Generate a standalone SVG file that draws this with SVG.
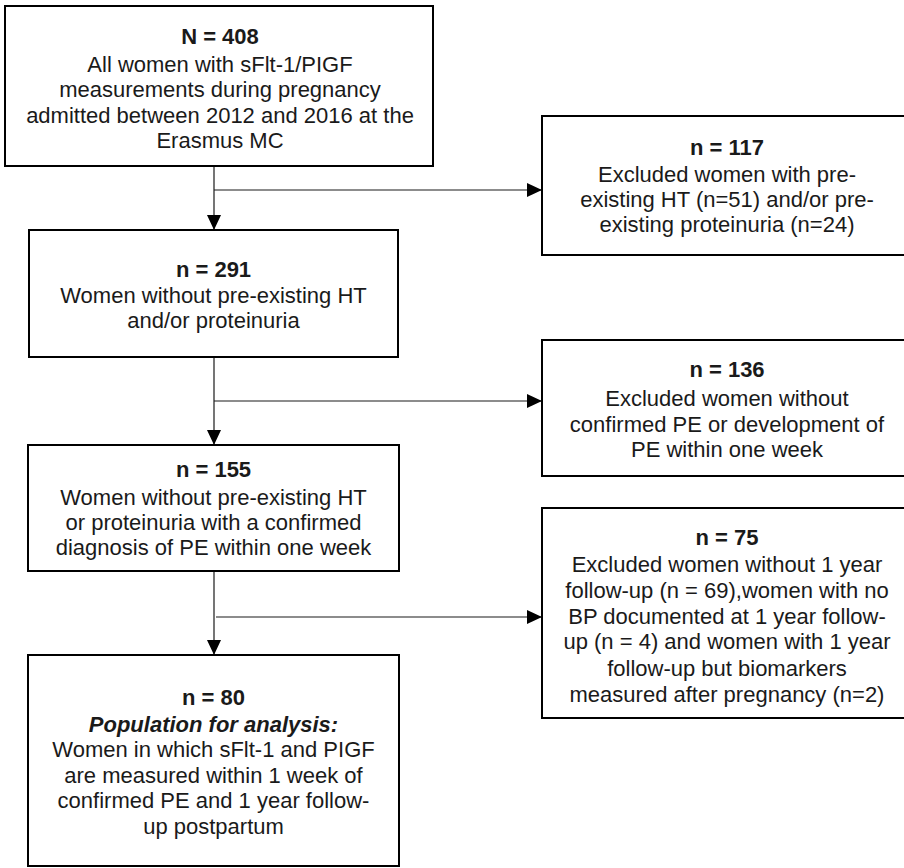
<svg xmlns="http://www.w3.org/2000/svg" width="904" height="868" viewBox="0 0 904 868">
<style>
.box{fill:#fff;stroke:#000;stroke-width:2}
.c{fill:none;stroke:#1a1a1a;stroke-width:1.2}
text{font-family:"Liberation Sans",Arial,sans-serif;font-size:22px;fill:#1a1a1a;text-anchor:middle}
.t{font-weight:bold}
.bi{font-weight:bold;font-style:italic}
</style>
<defs>
<marker id="ah" markerUnits="userSpaceOnUse" markerWidth="15" markerHeight="14" refX="15" refY="7" orient="auto">
<path d="M0,0 L15,7 L0,14 z" fill="#000"/>
</marker>
</defs>
<rect width="904" height="868" fill="#fff"/>
<g id="connectors">
<path class="c" d="M214,166 V230" marker-end="url(#ah)"/>
<path class="c" d="M214,190 H542" marker-end="url(#ah)"/>
<path class="c" d="M214,357 V445" marker-end="url(#ah)"/>
<path class="c" d="M214,401 H542" marker-end="url(#ah)"/>
<path class="c" d="M214,571 V655" marker-end="url(#ah)"/>
<path class="c" d="M216,617 H542" marker-end="url(#ah)"/>
</g>
<g id="n408">
<rect class="box" x="5" y="6" width="428" height="160"/>
<text class="t" x="220" y="44">N = 408</text>
<text x="220" y="71.5">All women with sFlt-1/PIGF</text>
<text x="220" y="97">measurements during pregnancy</text>
<text x="220" y="122.5">admitted between 2012 and 2016 at the</text>
<text x="220" y="148">Erasmus MC</text>
</g>
<g id="n117">
<rect class="box" x="542" y="116" width="370" height="139"/>
<text class="t" x="727" y="155">n = 117</text>
<text x="727" y="182">Excluded women with pre-</text>
<text x="727" y="207">existing HT (n=51) and/or pre-</text>
<text x="727" y="232">existing proteinuria (n=24)</text>
</g>
<g id="n291">
<rect class="box" x="29" y="230" width="369" height="127"/>
<text class="t" x="213.5" y="277">n = 291</text>
<text x="213.5" y="303">Women without pre-existing HT</text>
<text x="213.5" y="328">and/or proteinuria</text>
</g>
<g id="n136">
<rect class="box" x="542" y="340" width="370" height="136"/>
<text class="t" x="727" y="377">n = 136</text>
<text x="727" y="406">Excluded women without</text>
<text x="727" y="431.5">confirmed PE or development of</text>
<text x="727" y="457">PE within one week</text>
</g>
<g id="n155">
<rect class="box" x="28" y="445" width="371" height="126"/>
<text class="t" x="213.5" y="477">n = 155</text>
<text x="213.5" y="505">Women without pre-existing HT</text>
<text x="213.5" y="530">or proteinuria with a confirmed</text>
<text x="213.5" y="555">diagnosis of PE within  one week</text>
</g>
<g id="n75">
<rect class="box" x="542" y="508" width="370" height="210"/>
<text class="t" x="727" y="545">n = 75</text>
<text x="727" y="572">Excluded women without 1 year</text>
<text x="727" y="598">follow-up (n = 69),women with no</text>
<text x="727" y="623.5">BP documented at 1 year follow-</text>
<text x="727" y="649">up (n = 4) and women with 1 year</text>
<text x="727" y="676">follow-up but biomarkers</text>
<text x="727" y="702">measured after pregnancy (n=2)</text>
</g>
<g id="n80">
<rect class="box" x="28" y="655" width="371" height="211"/>
<text class="t" x="213.5" y="705">n = 80</text>
<text class="bi" x="213.5" y="731.5">Population for analysis:</text>
<text x="213.5" y="757">Women in which sFlt-1 and PIGF</text>
<text x="213.5" y="783">are measured within 1 week of</text>
<text x="213.5" y="808">confirmed PE and 1 year follow-</text>
<text x="213.5" y="834">up postpartum</text>
</g>
</svg>
